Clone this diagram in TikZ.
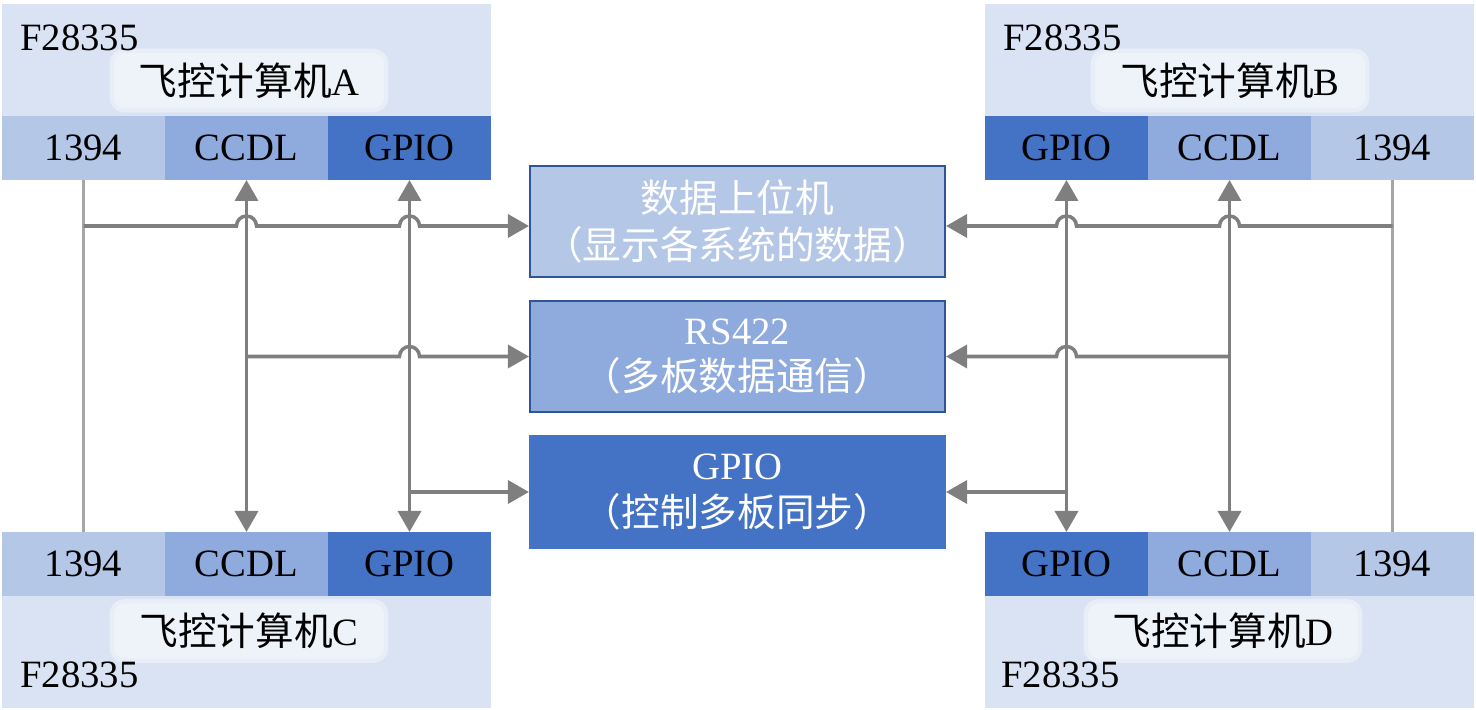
\documentclass[tikz,border=0pt]{standalone}
\usepackage{fontspec}
\setmainfont{Liberation Serif}
\newfontfamily\cjk{Noto Sans CJK SC}
\usetikzlibrary{positioning,arrows.meta}

\definecolor{bgblue}{HTML}{DAE3F3}
\definecolor{lightblue}{HTML}{B4C7E7}
\definecolor{midblue}{HTML}{8FAADC}
\definecolor{darkblue}{HTML}{4472C4}
\definecolor{edgeblue}{HTML}{2F5597}
\definecolor{labelblue}{HTML}{EEF3FA}
\definecolor{linegray}{HTML}{7F7F7F}
\definecolor{palegray}{HTML}{A6A6A6}
\newcommand{\hoprad}{0.2cm}

\begin{document}
\begin{tikzpicture}[
    font=\fontsize{22}{26.5}\selectfont,
    >={Triangle[width=0.46cm,length=0.42cm]},
    board/.style={fill=bgblue,inner sep=0,outer sep=0,minimum width=9.78cm,minimum height=2.24cm},
    port/.style={inner sep=0,outer sep=0,minimum width=3.26cm,minimum height=1.28cm},
    tag/.style={fill=labelblue,rounded corners=6pt,inner sep=0,minimum width=5.4cm,minimum height=1.1cm,
        preaction={draw=white,line width=5pt,opacity=.4}},
    bus/.style={draw=edgeblue,line width=1.2pt,text=white,align=center,inner sep=0,
        minimum width=8.3cm,minimum height=2.22cm},
    link/.style={draw=linegray,line width=2pt},
    wire/.style={draw=palegray,line width=1.9pt}
]
    \useasboundingbox (0,0) rectangle (29.52,14.2);

    % computer A
    \node[board,anchor=north west] (abg) at (0.04,14.12) {};
    \node[port,fill=lightblue,anchor=north west] (a1394) at (abg.south west) {1394};
    \node[port,fill=midblue,right=0pt of a1394] (accdl) {CCDL};
    \node[port,fill=darkblue,right=0pt of accdl] (agpio) {GPIO};
    \node[tag] (alab) at (4.98,12.59) {{\cjk 飞控计算机}A};
    \node[anchor=west,inner sep=0] (achip) at (0.40,13.44) {F28335};

    % computer B
    \node[board,anchor=north west] (bbg) at (19.70,14.12) {};
    \node[port,fill=darkblue,anchor=north west] (bgpio) at (bbg.south west) {GPIO};
    \node[port,fill=midblue,right=0pt of bgpio] (bccdl) {CCDL};
    \node[port,fill=lightblue,right=0pt of bccdl] (b1394) {1394};
    \node[tag] (blab) at (24.60,12.59) {{\cjk 飞控计算机}B};
    \node[anchor=west,inner sep=0] (bchip) at (20.06,13.44) {F28335};

    % computer C
    \node[port,fill=lightblue,anchor=north west] (c1394) at (0.04,3.56) {1394};
    \node[port,fill=midblue,right=0pt of c1394] (cccdl) {CCDL};
    \node[port,fill=darkblue,right=0pt of cccdl] (cgpio) {GPIO};
    \node[board,anchor=north west] (cbg) at (c1394.south west) {};
    \node[tag] (clab) at (4.98,1.58) {{\cjk 飞控计算机}C};
    \node[anchor=west,inner sep=0] (cchip) at (0.40,0.70) {F28335};

    % computer D
    \node[port,fill=darkblue,anchor=north west] (dgpio) at (19.70,3.56) {GPIO};
    \node[port,fill=midblue,right=0pt of dgpio] (dccdl) {CCDL};
    \node[port,fill=lightblue,right=0pt of dccdl] (d1394) {1394};
    \node[board,anchor=north west] (dbg) at (dgpio.south west) {};
    \node[tag] (dlab) at (24.46,1.58) {{\cjk 飞控计算机}D};
    \node[anchor=west,inner sep=0] (dchip) at (20.02,0.70) {F28335};

    % the three buses in the middle
    \node[bus,fill=lightblue] (disp) at (14.75,9.77) {{\cjk 数据上位机}\\{\cjk （显示各系统的数据）}};
    \node[bus,fill=midblue] (rs) at (14.75,7.07) {RS422\\{\cjk （多板数据通信）}};
    \node[bus,fill=darkblue,draw=darkblue] (sync) at (14.75,4.36) {GPIO\\{\cjk （控制多板同步）}};
    \coordinate (dispin) at ([yshift=-0.09cm]disp.west);
    \coordinate (dispout) at ([yshift=-0.09cm]disp.east);

    % vertical lines between the boards
    \draw[wire] (a1394.south) -- (c1394.north);
    \draw[wire] (b1394.south) -- (d1394.north);
    \draw[link,<->] (accdl.south) -- (cccdl.north);
    \draw[link,<->] (agpio.south) -- (cgpio.north);
    \draw[link,<->] (bccdl.south) -- (dccdl.north);
    \draw[link,<->] (bgpio.south) -- (dgpio.north);

    % 1394 to the host, hopping over the other lines
    \draw[link,->] (a1394.south |- dispin) -- ([xshift=-\hoprad]accdl.south |- dispin)
        arc[start angle=180,end angle=0,radius=\hoprad] -- ([xshift=-\hoprad]agpio.south |- dispin)
        arc[start angle=180,end angle=0,radius=\hoprad] -- (dispin);
    \draw[link,->] (b1394.south |- dispout) -- ([xshift=\hoprad]bccdl.south |- dispout)
        arc[start angle=0,end angle=180,radius=\hoprad] -- ([xshift=\hoprad]bgpio.south |- dispout)
        arc[start angle=0,end angle=180,radius=\hoprad] -- (dispout);

    % CCDL to RS422
    \draw[link,->] (accdl.south |- rs.west) -- ([xshift=-\hoprad]agpio.south |- rs.west)
        arc[start angle=180,end angle=0,radius=\hoprad] -- (rs.west);
    \draw[link,->] (bccdl.south |- rs.east) -- ([xshift=\hoprad]bgpio.south |- rs.east)
        arc[start angle=0,end angle=180,radius=\hoprad] -- (rs.east);

    % GPIO to the sync bus
    \draw[link,->] (agpio.south |- sync.west) -- (sync.west);
    \draw[link,->] (bgpio.south |- sync.east) -- (sync.east);
\end{tikzpicture}
\end{document}
